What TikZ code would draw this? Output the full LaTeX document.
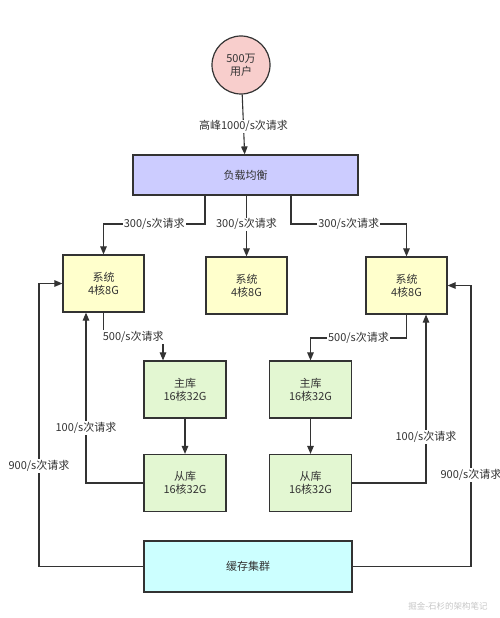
\documentclass[tikz,border=0pt]{standalone}
\usepackage{fontspec}
\newfontfamily\cjk{Noto Sans CJK SC}
\usetikzlibrary{positioning, calc, arrows.meta}
\definecolor{Line}{HTML}{333333}
\definecolor{Pink}{HTML}{F8CECC}
\definecolor{Lavender}{HTML}{CCCCFF}
\definecolor{Cream}{HTML}{FFFFCC}
\definecolor{Mint}{HTML}{E3F7D2}
\definecolor{Aqua}{HTML}{CCFFFF}
\tikzset{
    box/.style={rectangle, draw=Line, line width=1.2pt, text=Line, align=center, font=\cjk\fontsize{11}{13}\selectfont},
    sysnode/.style={box, fill=Cream, minimum width=81pt, minimum height=57pt},
    dbnode/.style={box, fill=Mint, minimum width=82pt, minimum height=57pt},
    arrow/.style={-{Triangle[length=8pt, width=6.5pt]}, line width=1.1pt, color=Line},
    rate/.style={fill=white, inner sep=1pt, text=Line, font=\cjk\fontsize{11}{13}\selectfont},
}
\begin{document}
\begin{tikzpicture}[x=1pt, y=-1pt]
    \useasboundingbox (0,0) rectangle (500,618);

    % Utenti e bilanciatore
    \node[box, circle, fill=Pink, minimum size=58pt, inner sep=0pt] (user) at (241,65) {500万\\用户};
    \node[box, fill=Lavender, minimum width=225pt, minimum height=40pt] (lb) at (245.5,175) {负载均衡};

    % Sistemi
    \node[sysnode] (sys1) at (103.5,283.5) {系统\\4核8G};
    \node[sysnode] (sys2) at (246.5,285.5) {系统\\4核8G};
    \node[sysnode] (sys3) at (406.5,285.5) {系统\\4核8G};

    % Database
    \node[dbnode] (ma1) at (185,389.5) {主库\\16核32G};
    \node[dbnode] (sl1) at (185,483) {从库\\16核32G};
    \node[dbnode] (ma2) at (310.5,389.5) {主库\\16核32G};
    \node[dbnode] (sl2) at (310.5,483) {从库\\16核32G};

    % Cache
    \node[box, fill=Aqua, minimum width=208pt, minimum height=51pt] (cache) at (248,566.5) {缓存集群};

    % Punti di piega
    \coordinate (t1) at (205,224);
    \coordinate (t3) at (291,224);
    \coordinate (m1) at (163,337);
    \coordinate (m2) at (406.5,338);
    \coordinate (r1) at (86,428);
    \coordinate (r2) at (426,437);
    \coordinate (c1) at (39,466);
    \coordinate (c2) at (471,475);

    % Richieste in ingresso
    \draw[arrow] (user) -- (lb) node[rate, pos=0.53] {高峰1000/s次请求};
    \draw[arrow] (t1 |- lb.south) -- (t1) -| (sys1) node[rate, pos=0.25] {300/s次请求};
    \draw[arrow] (sys2 |- lb.south) -- (sys2) node[rate, pos=0.47] {300/s次请求};
    \draw[arrow] (t3 |- lb.south) -- (t3) -| (sys3) node[rate, pos=0.25] {300/s次请求};

    % Scritture sul master
    \draw[arrow] (sys1.south) |- (m1) node[rate, pos=0.75] {500/s次请求} -- (m1 |- ma1.north);
    \draw[arrow] (sys3.south) -- (m2) -| (ma2) node[rate, pos=0.25] {500/s次请求};
    \draw[arrow] (ma1) -- (sl1);
    \draw[arrow] (ma2) -- (sl2);

    % Letture dallo slave
    \draw[arrow] (sl1.west) -| (r1) node[rate] {100/s次请求} -- (r1 |- sys1.south);
    \draw[arrow] (sl2.east) -| (r2) node[rate] {100/s次请求} -- (r2 |- sys3.south);

    % Letture dalla cache
    \draw[arrow] (cache.west) -| (c1) node[rate] {900/s次请求} |- (sys1.west);
    \draw[arrow] (cache.east) -| (c2) node[rate] {900/s次请求} |- (sys3.east);

    % Filigrana
    \node[text=gray!45, font=\cjk\fontsize{8.5}{10}\selectfont] (mark) at (448,606) {掘金-石杉的架构笔记};
\end{tikzpicture}
\end{document}
